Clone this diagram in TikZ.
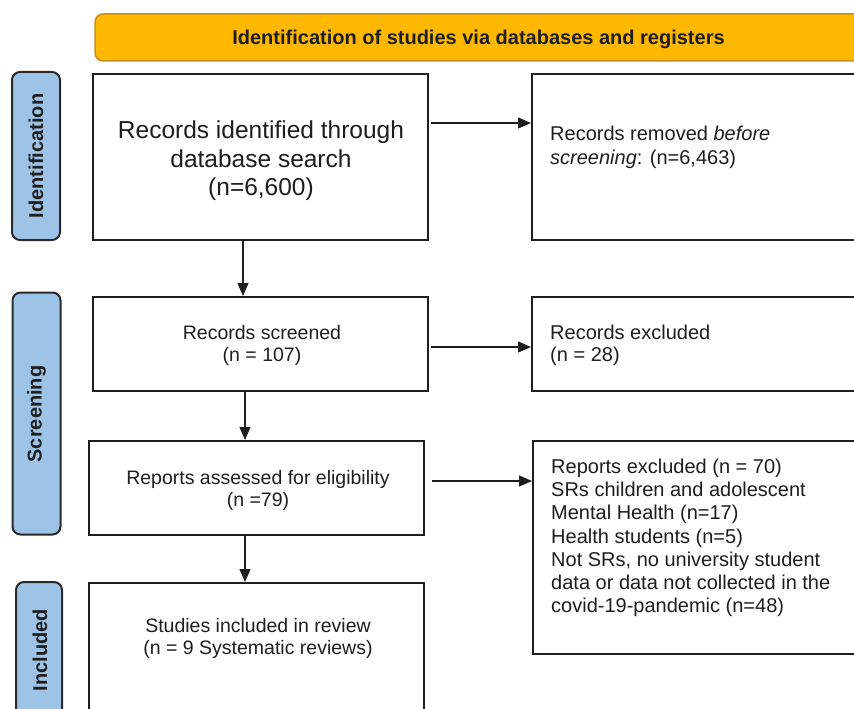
\documentclass[tikz,border=0pt]{standalone}
\usepackage{fontspec}
\setmainfont{Liberation Sans}
\usetikzlibrary{arrows.meta}
\definecolor{bannerfill}{HTML}{FFB800}
\definecolor{bannerdraw}{HTML}{C8901A}
\definecolor{sidefill}{HTML}{9DC3E6}
\definecolor{sidedraw}{HTML}{2A2A2A}
\definecolor{inkgray}{HTML}{1E1E1E}
\begin{document}
\begin{tikzpicture}[x=1pt,y=-1pt,
  flowbox/.style={draw=inkgray, line width=2pt, fill=white, inner sep=0pt},
  sidebox/.style={draw=sidedraw, fill=sidefill, line width=2pt, rounded corners=8pt, inner sep=0pt},
  banner/.style={draw=bannerdraw, fill=bannerfill, line width=1.5pt, rounded corners=8pt, inner sep=0pt},
  sidetxt/.style={rotate=90, font=\bfseries\fontsize{20}{24}\selectfont, text=inkgray, inner sep=0pt},
  ctxt/.style={align=center, text=inkgray, inner sep=0pt, font=\fontsize{19.5}{22}\selectfont},
  ltxt/.style={align=left, anchor=north west, text=inkgray, inner sep=0pt},
  arr/.style={draw=inkgray, line width=1.2pt, -{Triangle[length=13pt,width=11pt]}}
]
\useasboundingbox (0,0) rectangle (854,709);
\clip (0,0) rectangle (854,709);

% banner
\node[banner, minimum width=790pt, minimum height=47pt] (ban) at (490,37.5) {};
\node[font=\bfseries\fontsize{20}{24}\selectfont, text=inkgray, inner sep=0pt] (bantxt) at (478.5,39) {Identification of studies via databases and registers};

% side labels
\node[sidebox, minimum width=48pt, minimum height=168pt] (sid) at (36,156) {};
\node[sidetxt] (sidt) at (36,156) {Identification};
\node[sidebox, minimum width=48pt, minimum height=242pt] (sscr) at (36.5,413.5) {};
\node[sidetxt] (sscrt) at (36.5,414) {Screening};
\node[sidebox, minimum width=46pt, minimum height=180pt] (sinc) at (39,672) {};
\node[sidetxt] (sinct) at (40,650) {Included};

% boxes
\node[flowbox, minimum width=335pt, minimum height=166pt] (b1) at (260.5,157) {};
\node[flowbox, minimum width=343pt, minimum height=166pt] (b2) at (703.5,157) {};
\node[flowbox, minimum width=335pt, minimum height=94pt] (b3) at (260.5,344) {};
\node[flowbox, minimum width=343pt, minimum height=94pt] (b4) at (703.5,344) {};
\node[flowbox, minimum width=335pt, minimum height=94pt] (b5) at (256.5,488) {};
\node[flowbox, minimum width=342pt, minimum height=213pt] (b6) at (704,547.5) {};
\node[flowbox, minimum width=335pt, minimum height=180pt] (b7) at (256.5,673) {};

% texts
\node[ctxt, font=\fontsize{24.5}{28.5}\selectfont] (t1) at (261,161) {Records identified through\\database search\\(n=6,600)};
\node[ltxt, font=\fontsize{20}{24}\selectfont] (t2) at (550,125.5) {Records removed \textit{before}\\\textit{screening}: (n=6,463)};
\node[ctxt] (t3) at (262,345) {Records screened\\(n = 107)};
\node[ltxt, font=\fontsize{20}{22}\selectfont] (t4) at (550,324.5) {Records excluded\\(n = 28)};
\node[ctxt] (t5) at (258,490.5) {Reports assessed for eligibility\\(n =79)};
\node[ltxt, font=\fontsize{20}{23.3}\selectfont] (t6) at (551,458.5) {Reports excluded (n = 70)\\SRs children and adolescent\\Mental Health (n=17)\\Health students (n=5)\\Not SRs, no university student\\data or data not collected in the\\covid-19-pandemic (n=48)};
\node[ctxt] (t7) at (258,638.5) {Studies included in review\\(n = 9 Systematic reviews)};

% connectors
\draw[arr] ([xshift=1.5pt, yshift=34pt]b1.east) -- ([yshift=34pt]b1.east -| b2.west);
\draw[arr] ([xshift=1.5pt, yshift=-3pt]b3.east) -- ([yshift=-3pt]b3.east -| b4.west);
\draw[arr] ([xshift=7pt, yshift=7pt]b5.east) -- ([yshift=7pt]b5.east -| b6.west);
\draw[arr] ([xshift=-17.5pt]b1.south) -- ([xshift=-17.5pt]b1.south |- b3.north);
\draw[arr] ([xshift=-15.5pt]b3.south) -- ([xshift=-15.5pt]b3.south |- b5.north);
\draw[arr] ([xshift=-11.5pt]b5.south) -- ([xshift=-11.5pt]b5.south |- b7.north);
\end{tikzpicture}
\end{document}
